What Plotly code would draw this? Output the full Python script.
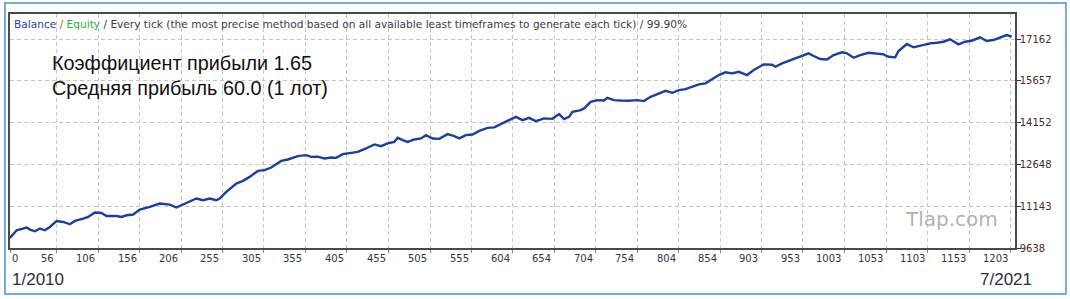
import plotly.graph_objects as go

# ---- data ----
trades = [0,8,20,24,30,36,42,48,56,64,
          72,78,88,94,102,110,116,128,134,140,
          148,156,168,180,192,200,206,216,224,232,
          240,248,252,260,272,280,288,298,306,314,
          326,334,346,356,362,370,378,386,392,400,
          410,418,428,438,446,454,462,466,472,478,
          486,494,500,508,516,526,534,540,548,556,
          564,574,582,590,600,608,616,624,632,642,
          652,660,666,672,676,686,690,698,706,714,
          718,726,734,744,754,762,770,780,788,796,
          804,812,820,828,836,844,852,860,868,876,
          886,894,901,906,916,920,928,938,950,960,
          966,974,982,990,1000,1006,1014,1022,1032,1042,
          1050,1056,1064,1068,1078,1086,1098,1106,1114,1122,
          1130,1140,1148,1156,1166,1174,1182,1190,1198,1204]

balance = [10000,10276,10374,10302,10240,10338,10276,10395,10612,10576,
           10493,10612,10698,10756,10915,10900,10792,10792,10756,10817,
           10843,11023,11117,11239,11203,11095,11178,11297,11420,11359,
           11420,11359,11420,11658,11961,12055,12199,12415,12441,12538,
           12776,12827,12946,12982,12920,12930,12863,12899,12884,13018,
           13065,13101,13223,13368,13306,13404,13461,13606,13523,13461,
           13548,13584,13703,13584,13570,13739,13667,13584,13703,13728,
           13858,13966,13981,14100,14219,14363,14244,14327,14208,14306,
           14290,14461,14280,14363,14544,14605,14666,14904,14966,14950,
           15049,14966,14950,14940,14966,14929,15085,15207,15301,15229,
           15326,15362,15445,15532,15568,15712,15867,15965,15929,15986,
           15867,16048,16167,16253,16240,16167,16289,16408,16527,16650,
           16553,16444,16430,16589,16686,16650,16491,16589,16672,16650,
           16614,16527,16506,16733,16985,16866,16949,17011,17032,17068,
           17155,16975,17068,17104,17227,17094,17130,17227,17310,17249]

x_ticks = [0,56,106,156,206,255,305,355,405,455,505,555,604,654,704,
           754,804,854,903,953,1003,1053,1103,1153,1203]
y_ticks = [9638,11143,12648,14152,15657,17162]
y_tick_labels = ["9638","11143","12648","14152","15657","17162"]

title_parts = [("Balance", "#2c3e96"), (" / ", "#c05020"), ("Equity", "#2fae3c"),
               (" / Every tick (the most precise method based on all available least timeframes to generate each tick) / 99.90%", "#3a3a48")]
info_lines = ["Коэффициент прибыли 1.65", "Средняя прибыль 60.0 (1 лот)"]
date_start = "1/2010"
date_end = "7/2021"
watermark = "Tlap.com"

# ---- layout geometry ----
W, H = 1070, 299
ML, MR, MT, MB = 8, 55, 14, 51
PW, PH = W - ML - MR, H - MT - MB

def px_x(p):
    return (p - ML) / PW

def px_y(p):
    return (H - MB - p) / PH

fig = go.Figure()
fig.add_trace(go.Scatter(x=trades, y=balance, mode="lines",
                         line=dict(color="#1c3f9e", width=2.4),
                         hoverinfo="skip", showlegend=False))

grid = dict(showgrid=True, gridcolor="#c4c4c4", gridwidth=1, griddash="4px,3px")

fig.update_layout(
    width=W, height=H,
    margin=dict(l=ML, r=MR, t=MT, b=MB),
    paper_bgcolor="white", plot_bgcolor="white",
    font=dict(family="DejaVu Sans", size=10, color="#3a3030"),
    showlegend=False,
    xaxis=dict(range=[0, 1208], tickvals=x_ticks, showticklabels=False,
               ticks="outside", ticklen=3, tickcolor="#888888",
               showline=True, mirror=True, linecolor="#4a4a4a", linewidth=1.5,
               zeroline=False, **grid),
    yaxis=dict(range=[9638, 18067], side="right", tickvals=y_ticks, ticktext=y_tick_labels,
               ticks="outside", ticklen=4, tickcolor="#333333",
               tickfont=dict(family="DejaVu Sans", size=10, color="#4a2a28"),
               ticklabelstandoff=-3,
               showline=True, mirror=True, linecolor="#4a4a4a", linewidth=1.5,
               zeroline=False, **grid),
)

annotations = []
# x tick labels, right-aligned at their gridlines (first one left-aligned)
for i, v in enumerate(x_ticks):
    annotations.append(dict(x=v, y=0, xref="x", yref="paper", text=str(v),
                            showarrow=False, xanchor="left" if i == 0 else "right",
                            yanchor="middle", yshift=-10, xshift=0 if i == 0 else -1,
                            font=dict(family="DejaVu Sans", size=10, color="#343448")))

# title line
title_html = "".join(f"<span style='color:{c}'>{t}</span>" for t, c in title_parts)
annotations.append(dict(x=px_x(10), y=px_y(24), xref="paper", yref="paper", text=title_html,
                        showarrow=False, xanchor="left", yanchor="middle",
                        font=dict(family="DejaVu Sans", size=10.6)))

# info text
for i, line in enumerate(info_lines):
    annotations.append(dict(x=px_x(48), y=px_y(63 + 25 * i), xref="paper", yref="paper",
                            text=line, showarrow=False, xanchor="left", yanchor="middle",
                            font=dict(family="Liberation Sans", size=19.8, color="#111111")))

# dates
annotations.append(dict(x=px_x(8), y=px_y(279), xref="paper", yref="paper", text=date_start,
                        showarrow=False, xanchor="left", yanchor="middle",
                        font=dict(family="Liberation Sans", size=17, color="#2e2e3c")))
annotations.append(dict(x=px_x(1034), y=px_y(279), xref="paper", yref="paper", text=date_end,
                        showarrow=False, xanchor="right", yanchor="middle",
                        font=dict(family="Liberation Sans", size=17, color="#2e2e3c")))

# watermark
annotations.append(dict(x=px_x(903), y=px_y(219), xref="paper", yref="paper", text=watermark,
                        showarrow=False, xanchor="left", yanchor="middle",
                        font=dict(family="DejaVu Sans", size=20, color="#b2b2b2")))

fig.update_layout(annotations=annotations)

# outer light-blue frame
fig.add_shape(type="rect", xref="paper", yref="paper",
              x0=px_x(3), x1=px_x(1066), y0=px_y(294), y1=px_y(3),
              line=dict(color="#74acd8", width=2), fillcolor="rgba(0,0,0,0)", layer="below")

fig.write_html("out.html")
